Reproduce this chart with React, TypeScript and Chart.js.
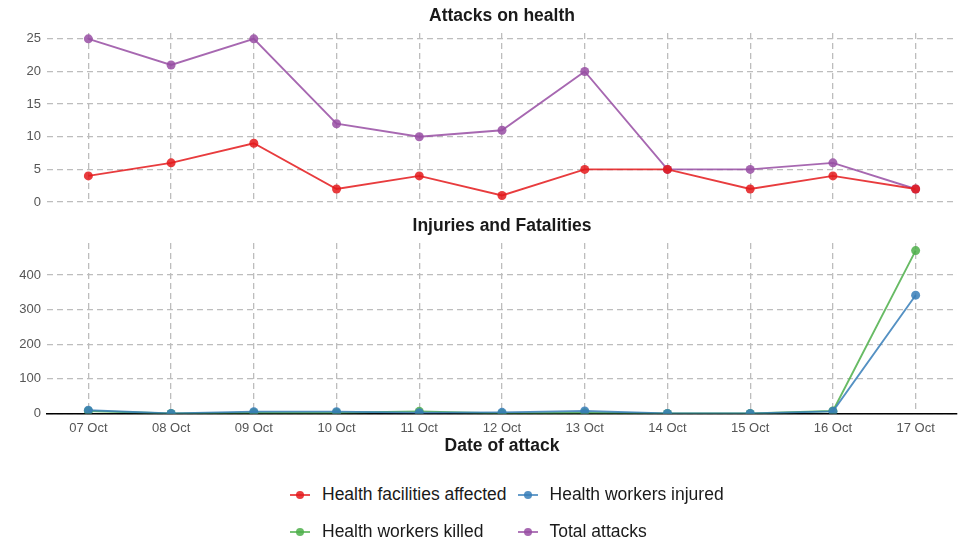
import React, { useEffect, useRef } from 'react';
import { Chart, registerables } from 'chart.js';

Chart.register(...registerables);

const dates = ['07 Oct', '08 Oct', '09 Oct', '10 Oct', '11 Oct', '12 Oct', '13 Oct', '14 Oct', '15 Oct', '16 Oct', '17 Oct'];
const facilitiesAffected = [4, 6, 9, 2, 4, 1, 5, 5, 2, 4, 2];
const totalAttacks = [25, 21, 25, 12, 10, 11, 20, 5, 5, 6, 2];
const workersInjured = [9, 0, 5, 5, 2, 3, 7, 0, 0, 6, 342];
const workersKilled = [7, 0, 2, 2, 6, 0, 2, 0, 0, 7, 471];
const topTicks = [0, 5, 10, 15, 20, 25];
const bottomTicks = [0, 100, 200, 300, 400];

const FONT = '"Liberation Sans", Arial, Helvetica, sans-serif';
const RED = 'rgba(228,26,28,0.85)';
const BLUE = 'rgba(55,126,184,0.85)';
const GREEN = 'rgba(77,175,74,0.85)';
const PURPLE = 'rgba(152,78,163,0.85)';
const GRID = '#bdbdbd';
const DASH = [6, 4];

const legendItems = [
  { label: 'Health facilities affected', color: RED },
  { label: 'Health workers injured', color: BLUE },
  { label: 'Health workers killed', color: GREEN },
  { label: 'Total attacks', color: PURPLE },
];

function ds(label: string, data: number[], color: string) {
  return {
    label,
    data,
    borderColor: color,
    backgroundColor: color,
    pointBackgroundColor: color,
    pointBorderColor: color,
    borderWidth: 1.9,
    pointRadius: 4.5,
    pointBorderWidth: 0,
    tension: 0,
  };
}

function yScale(min: number, max: number, ticks: number[]) {
  return {
    min,
    max,
    afterBuildTicks: (s: any) => {
      s.ticks = ticks.map((v) => ({ value: v }));
    },
    afterFit: (s: any) => {
      s.width = 47;
      s.paddingTop = 0;
      s.paddingBottom = 0;
    },
    grid: { color: GRID, lineWidth: 1.3, drawTicks: false },
    border: { display: false, dash: DASH },
    ticks: { color: '#555', font: { family: FONT, size: 13 }, padding: 6 },
  };
}

function titleOpts(text: string) {
  return {
    display: true,
    text,
    fullSize: false,
    color: '#1a1a1a',
    font: { family: FONT, size: 17.5, weight: 'bold' as const },
    padding: { top: 6, bottom: 6 },
  };
}

export default function App() {
  const topRef = useRef<HTMLCanvasElement>(null);
  const botRef = useRef<HTMLCanvasElement>(null);

  useEffect(() => {
    const top = new Chart(topRef.current!, {
      type: 'line',
      data: {
        labels: dates,
        datasets: [
          ds('Health facilities affected', facilitiesAffected, RED),
          ds('Total attacks', totalAttacks, PURPLE),
        ],
      },
      options: {
        animation: false,
        responsive: false,
        layout: { padding: { left: 0, right: 11, top: 0, bottom: 7 } },
        plugins: {
          legend: { display: false },
          tooltip: { enabled: false },
          title: titleOpts('Attacks on health'),
        },
        scales: {
          x: {
            offset: true,
            grid: { offset: false, color: GRID, lineWidth: 1.3, drawTicks: false },
            border: { display: false, dash: DASH },
            ticks: { display: false },
          },
          y: yScale(-0.15, 25.9, topTicks),
        },
      },
    });

    const bot = new Chart(botRef.current!, {
      type: 'line',
      data: {
        labels: dates,
        datasets: [
          ds('Health workers injured', workersInjured, BLUE),
          ds('Health workers killed', workersKilled, GREEN),
        ],
      },
      options: {
        animation: false,
        responsive: false,
        layout: { padding: { left: 0, right: 11, top: 0, bottom: 1 } },
        plugins: {
          legend: { display: false },
          tooltip: { enabled: false },
          title: titleOpts('Injuries and Fatalities'),
        },
        scales: {
          x: {
            offset: true,
            grid: { offset: false, color: GRID, lineWidth: 1.3, drawTicks: false },
            border: { display: true, color: '#000', width: 1.5, dash: DASH },
            ticks: { color: '#555', font: { family: FONT, size: 13 }, padding: 7, maxRotation: 0 },
            title: {
              display: true,
              text: 'Date of attack',
              color: '#1a1a1a',
              font: { family: FONT, size: 17.5, weight: 'bold' as const },
              padding: { top: -7, bottom: 2 },
            },
          },
          y: yScale(0, 493, bottomTicks),
        },
      },
    });

    return () => {
      top.destroy();
      bot.destroy();
    };
  }, []);

  return (
    <div style={{ position: 'fixed', left: 0, top: 0, width: 968, height: 541, background: '#fff', fontFamily: FONT }}>
      <canvas ref={topRef} width={968} height={210} style={{ position: 'absolute', left: 0, top: 0, width: 968, height: 210 }} />
      <canvas ref={botRef} width={968} height={250} style={{ position: 'absolute', left: 0, top: 210, width: 968, height: 250 }} />
      <div
        style={{
          position: 'absolute',
          left: 290,
          top: 484,
          display: 'grid',
          gridTemplateColumns: 'auto auto',
          columnGap: 11,
          rowGap: 16,
          fontSize: 17.5,
          color: '#1a1a1a',
          lineHeight: '21px',
        }}
      >
        {legendItems.map((it) => (
          <div key={it.label} style={{ display: 'flex', alignItems: 'center' }}>
            <svg width={20} height={10} style={{ marginRight: 12, flex: 'none' }}>
              <line x1={0} y1={5} x2={20} y2={5} stroke={it.color} strokeWidth={1.8} />
              <circle cx={10} cy={5} r={4} fill={it.color} />
            </svg>
            <span>{it.label}</span>
          </div>
        ))}
      </div>
    </div>
  );
}
